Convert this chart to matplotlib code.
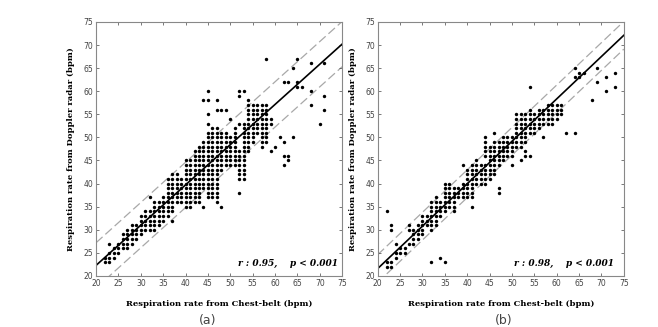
import numpy as np
import matplotlib
matplotlib.use("Agg")
import matplotlib.pyplot as plt

# columns of points: chest-belt value -> list of radar values
cols_a = {
    22: [23, 24], 23: [23, 24, 25, 27], 24: [24, 25, 26], 25: [25, 26, 27],
    26: [26, 27, 28, 29], 27: [26, 27, 28, 29, 30], 28: [27, 28, 29, 30, 31],
    29: [28, 29, 30, 31], 30: [29, 30, 31, 32, 33], 31: [30, 31, 32, 33, 34],
    32: [30, 31, 32, 33, 34, 37], 33: list(range(30, 37)), 34: list(range(31, 37)),
    35: list(range(32, 38)), 36: list(range(33, 42)), 37: [32] + list(range(34, 43)),
    38: list(range(36, 43)), 39: list(range(36, 42)), 40: list(range(35, 46)),
    41: list(range(35, 46)), 42: list(range(36, 48)), 43: list(range(36, 49)),
    44: [35] + list(range(39, 50)) + [58], 45: list(range(37, 52)) + [53, 55, 58, 60],
    46: list(range(37, 53)), 47: list(range(36, 53)) + [56, 58],
    48: [35] + list(range(43, 52)) + [56], 49: list(range(44, 52)) + [56],
    50: list(range(44, 51)) + [54], 51: list(range(44, 53)),
    52: [38] + list(range(41, 48)) + [53, 59, 60], 53: list(range(41, 54)) + [60],
    54: list(range(47, 59)), 55: list(range(49, 58)), 56: list(range(51, 58)),
    57: list(range(48, 58)), 58: list(range(49, 58)) + [67], 59: [47, 53, 54],
    60: [48], 61: [50], 62: [44, 46, 49, 62], 63: [45, 46, 62], 64: [50, 65],
    65: [61, 62, 67], 66: [61], 68: [57, 60, 66], 70: [53], 71: [56, 59, 66],
}
cols_b = {
    22: [22, 23, 34], 23: [22, 23, 30, 31], 24: [24, 25, 27], 25: [25, 26],
    26: [25, 26], 27: [27, 30, 31], 28: [27, 28, 29, 30], 29: [28, 29, 30, 31],
    30: list(range(29, 34)), 31: [31, 32, 33], 32: [23] + list(range(30, 37)),
    33: list(range(31, 38)), 34: [24] + list(range(33, 37)), 35: [23] + list(range(34, 41)),
    36: list(range(35, 41)), 37: list(range(34, 40)), 38: [37, 38, 39],
    39: [37, 38, 39, 40, 44], 40: list(range(37, 44)), 41: [35] + list(range(37, 45)),
    42: list(range(40, 46)), 43: list(range(40, 45)), 44: list(range(40, 45)) + list(range(46, 51)),
    45: list(range(41, 49)), 46: list(range(42, 50)) + [51], 47: [38, 39] + list(range(44, 50)),
    48: list(range(45, 51)), 49: list(range(46, 51)), 50: [44] + list(range(46, 51)),
    51: list(range(48, 56)), 52: [45] + list(range(48, 56)), 53: [46, 47] + list(range(49, 56)),
    54: [46] + list(range(51, 57)) + [61], 55: list(range(51, 56)), 56: list(range(52, 57)),
    57: [50, 53, 54, 55, 56], 58: list(range(53, 58)), 59: list(range(53, 58)),
    60: list(range(54, 58)), 61: [55, 56, 57], 62: [51], 64: [51, 63, 65],
    65: [63, 64], 66: [64], 68: [58], 69: [62, 65], 71: [60, 63], 73: [61, 64],
}

# fitted lines: (value at 20, value at 75), band offset
fit_a = (22.3, 70.2)
band_a = 4.9
fit_b = (21.6, 72.1)
band_b = 3.0
labels = ["r : 0.95,    p < 0.001", "r : 0.98,    p < 0.001"]
ticks = [20, 25, 30, 35, 40, 45, 50, 55, 60, 65, 70, 75]


def to_xy(cols):
    xs, ys = [], []
    for k, v in cols.items():
        xs += [k] * len(v)
        ys += v
    return np.array(xs), np.array(ys)


def draw(ax, cols, fit, band, label, lx_pos):
    x, y = to_xy(cols)
    ax.scatter(x, y, s=6, c="black", linewidths=0, zorder=3)
    lx = np.array([20, 75])
    ly = np.array(fit)
    ax.plot(lx, ly, color="black", lw=1.2, zorder=2)
    ax.plot(lx, ly + band, color="#a8a8a8", lw=0.9, ls=(0, (7, 3)), zorder=1)
    ax.plot(lx, ly - band, color="#a8a8a8", lw=0.9, ls=(0, (7, 3)), zorder=1)
    ax.set_xlim(20, 75)
    ax.set_ylim(20, 75)
    ax.set_xticks(ticks)
    ax.set_yticks(ticks)
    ax.tick_params(direction="in", length=2, width=0.5, top=True, right=True,
                   labelsize=5.5, pad=2, colors="#444444")
    for t in ax.get_xticklabels() + ax.get_yticklabels():
        t.set_family(["Liberation Sans Narrow", "DejaVu Sans"])
    for s in ax.spines.values():
        s.set_color("#888888")
        s.set_linewidth(0.8)
    ax.set_xlabel("Respiration rate from Chest-belt (bpm)", family="serif",
                  fontweight="bold", fontsize=6, labelpad=9)
    ax.set_ylabel("Respiration rate from Doppler radar (bpm)", family="serif",
                  fontweight="bold", fontsize=6, labelpad=6)
    ax.text(lx_pos, 0.05, label, transform=ax.transAxes, ha="right", va="center",
            family="serif", fontweight="bold", style="italic", fontsize=6.5)


fig = plt.figure(figsize=(6.58, 3.27), dpi=100)
ax1 = fig.add_axes([0.146, 0.156, 0.374, 0.777])
ax2 = fig.add_axes([0.574, 0.156, 0.374, 0.777])
draw(ax1, cols_a, fit_a, band_a, labels[0], 0.985)
draw(ax2, cols_b, fit_b, band_b, labels[1], 0.96)

fig.text(0.315, 0.02, "(a)", ha="center", va="center", fontsize=9, color="#444444")
fig.text(0.765, 0.02, "(b)", ha="center", va="center", fontsize=9, color="#444444")

fig.savefig("out.png", dpi=100)
